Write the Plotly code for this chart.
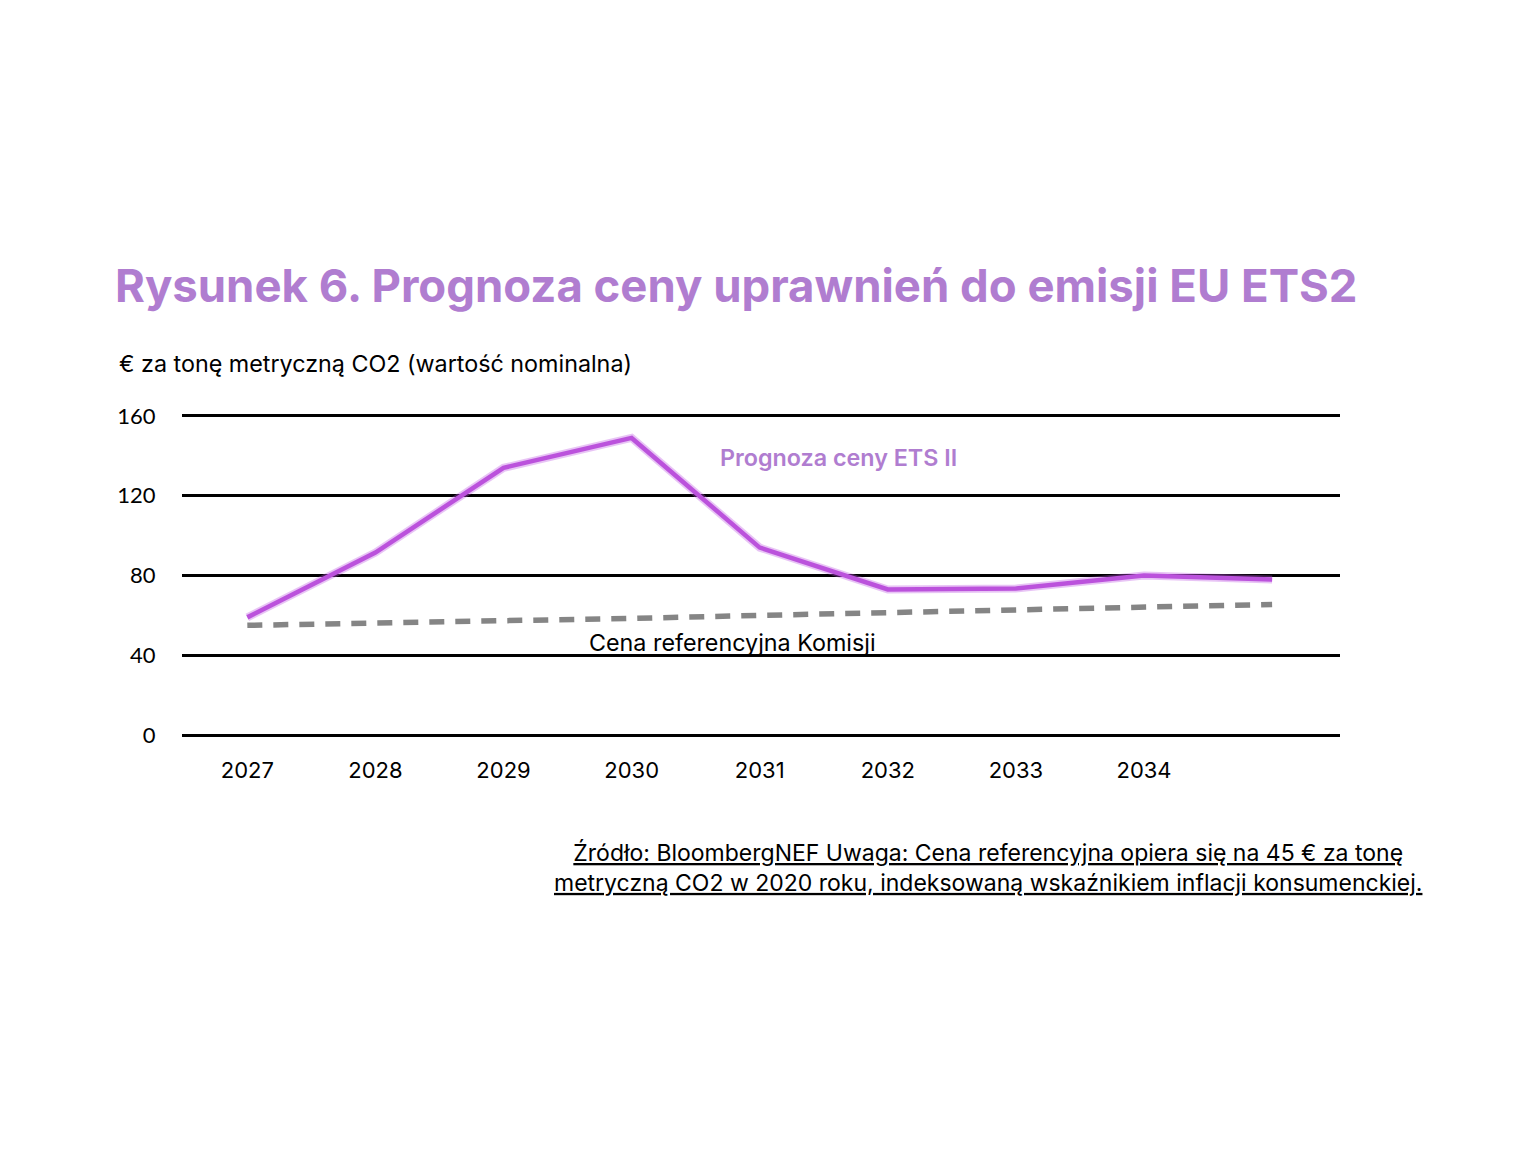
import plotly.graph_objects as go

years = [2027, 2028, 2029, 2030, 2031, 2032, 2033, 2034, 2035]
ets2_forecast = [59, 91.5, 134, 149, 94, 73, 73.5, 80, 78]
commission_ref = [55, 56, 57.5, 58.5, 60, 61.5, 63, 64.5, 65.5]
x_tick_vals = [2027, 2028, 2029, 2030, 2031, 2032, 2033, 2034]
x_tick_text = ["2027", "2028", "2029", "2030", "2031", "2032", "2033", "2034"]
y_tick_vals = [0, 40, 80, 120, 160]

TITLE = "Rysunek 6. Prognoza ceny uprawnień do emisji EU ETS2"
Y_LABEL = "€ za tonę metryczną CO2 (wartość nominalna)"
SERIES1 = "Prognoza ceny ETS II"
SERIES2 = "Cena referencyjna Komisji"
NOTE = ("<u>Źródło: BloombergNEF Uwaga: Cena referencyjna opiera się na 45 € za tonę</u><br>"
        "<u>metryczną CO2 w 2020 roku, indeksowaną wskaźnikiem inflacji konsumenckiej.</u>")

PW, PH = 1158, 323
L, T = 174, 406

fig = go.Figure()
fig.add_trace(go.Scatter(x=years, y=ets2_forecast, mode="lines",
                         line=dict(color="rgba(190,85,225,0.35)", width=8),
                         hoverinfo="skip", showlegend=False))
fig.add_trace(go.Scatter(x=years, y=ets2_forecast, mode="lines", name=SERIES1,
                         line=dict(color="#bb52dc", width=4.5), showlegend=False))
fig.add_trace(go.Scatter(x=years, y=commission_ref, mode="lines", name=SERIES2,
                         line=dict(color="#858585", width=5.5, dash="15px,11px"),
                         showlegend=False))

fig.update_layout(
    width=1536, height=1152,
    paper_bgcolor="white", plot_bgcolor="white",
    margin=dict(l=L, r=1536 - L - PW, t=T, b=1152 - T - PH),
    font=dict(family="Inter, Lato, sans-serif", color="black"),
    xaxis=dict(range=[2026.49, 2035.53], tickvals=x_tick_vals, ticktext=x_tick_text,
               showgrid=False, zeroline=False, showline=False,
               ticks="outside", ticklen=14, tickcolor="rgba(0,0,0,0)",
               tickfont=dict(family="Inter, sans-serif", size=22, color="black")),
    yaxis=dict(range=[-1, 161], tickvals=y_tick_vals, showgrid=True,
               gridcolor="black", gridwidth=2.5, zeroline=False, showline=False,
               ticks="outside", ticklen=21, tickcolor="rgba(0,0,0,0)",
               tickfont=dict(family="Lato, sans-serif", size=22, color="black")),
    annotations=[
        dict(text="<b>" + TITLE + "</b>", xref="paper", yref="paper",
             x=(113 - 182) / PW, y=1 + (414 - 285) / PH, xanchor="left", yanchor="middle",
             showarrow=False, font=dict(family="Inter, sans-serif", size=45.5, color="#b07dd0")),
        dict(text=Y_LABEL, xref="paper", yref="paper",
             x=(117 - 182) / PW, y=1 + (414 - 363) / PH, xanchor="left", yanchor="middle",
             showarrow=False, font=dict(family="Inter, sans-serif", size=23.3, color="black")),
        dict(text=SERIES1, xref="x", yref="y", x=2030.677, y=139,
             xanchor="left", yanchor="middle", showarrow=False,
             font=dict(family="Inter, sans-serif", size=23.3, color="#b07dd0", weight=600)),
        dict(text=SERIES2, xref="x", yref="y", x=2029.654, y=46.5,
             xanchor="left", yanchor="middle", showarrow=False,
             font=dict(family="Inter, sans-serif", size=23.3, color="black")),
        dict(text=NOTE, xref="paper", yref="paper",
             x=(988 - 182) / PW, y=-(868 - 737) / PH, xanchor="center", yanchor="middle",
             align="center", showarrow=False,
             font=dict(family="Inter, sans-serif", size=23, color="black")),
    ],
)

fig.write_html("out.html")
